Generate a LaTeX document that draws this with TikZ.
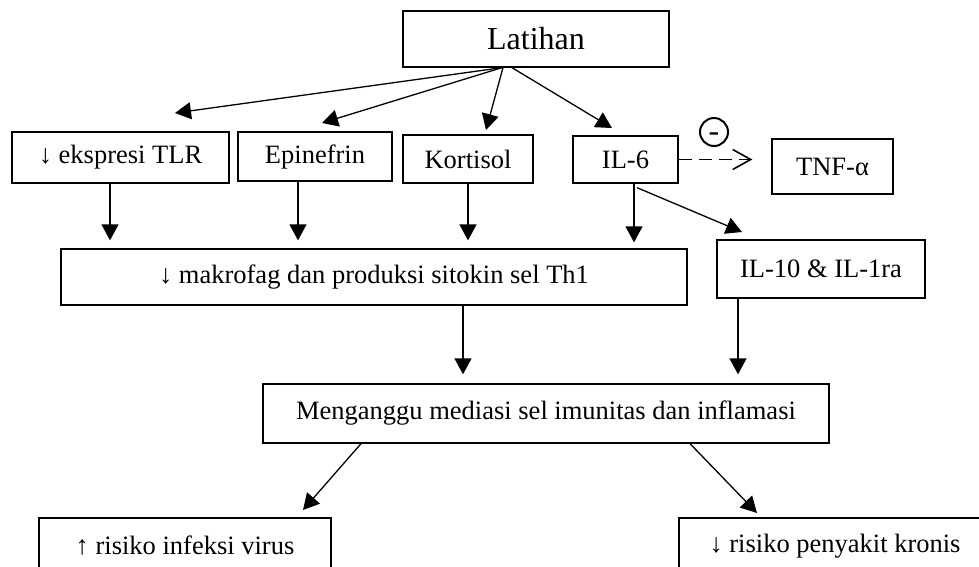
\documentclass[tikz,border=0pt]{standalone}
\usepackage{fontspec}
\setmainfont{Liberation Serif}
\usetikzlibrary{arrows.meta}

\newcommand{\teksbiasa}{\fontsize{26.5}{30}\selectfont}
\newcommand{\teksbesar}{\fontsize{32}{36}\selectfont}

\tikzset{
    kotak/.style={draw, line width=1.3pt, inner sep=0pt, align=center, font=\teksbiasa},
    panah/.style={-{Triangle[length=16pt,width=17pt]}, line width=1.3pt},
    hambat/.style={dash pattern=on 13pt off 7pt, -{Straight Barb[length=18pt,width=20pt]}, line width=1.6pt},
}

\begin{document}
\begin{tikzpicture}[x=1pt, y=-1pt]
            \clip (0,0) rectangle (979,566);
            \node[kotak, font=\teksbesar, minimum width=266pt, minimum height=56pt] (lat) at (536,39) {Latihan};
            \node[kotak, minimum width=217pt, minimum height=51pt] (tlr) at (120.5,157.5) {↓ ekspresi TLR};
            \node[kotak, minimum width=154pt, minimum height=49pt] (epi) at (315,156.5) {Epinefrin};
            \node[kotak, minimum width=130pt, minimum height=48pt] (kor) at (468,159) {Kortisol};
            \node[kotak, minimum width=105pt, minimum height=47pt] (il6) at (625.5,159.5) {IL-6};
            \node[kotak, minimum width=121pt, minimum height=55pt] (tnf) at (832.5,166.5) {TNF-α};
            \node[draw, circle, line width=2pt, minimum size=28pt, inner sep=0pt, text height=19pt, text depth=0pt, font=\fontsize{32}{32}\selectfont] (min) at (714,132) {-};
            \node[kotak, minimum width=626pt, minimum height=56pt] (mak) at (374,277) {↓ makrofag dan produksi sitokin sel Th1};
            \node[kotak, minimum width=208pt, minimum height=58pt] (il10) at (821,269) {IL-10 \& IL-1ra};
            \node[kotak, minimum width=566pt, minimum height=59pt] (meng) at (546,413.5) {Menganggu mediasi sel imunitas dan inflamasi};
            \node[kotak, minimum width=292pt, minimum height=56pt] (vir) at (185,546) {↑ risiko infeksi virus};
            \node[kotak, minimum width=312pt, minimum height=56pt] (kro) at (835,546) {↓ risiko penyakit kronis};
            \coordinate (ujungtlr) at (175,113);
            \coordinate (ujungepi) at (322,123);
            \coordinate (ujungkor) at (486,130);
            \coordinate (ujungil6) at (612,128);
            \coordinate (ujungil10) at (742,232);
            \coordinate (ujungvir) at (303,510);
            \coordinate (ujungkro) at (757,513);
            \draw[panah] ([xshift=-34pt]lat.south) -- (ujungtlr);
            \draw[panah] ([xshift=-34pt]lat.south) -- (ujungepi);
            \draw[panah] ([xshift=-33pt]lat.south) -- (ujungkor);
            \draw[panah] ([xshift=-24pt]lat.south) -- (ujungil6);
            \draw[hambat] (il6.east) -- (il6.east -| tnf.west) [shorten >=19pt];
            \draw[panah, shorten >=8pt] ([xshift=-10.5pt]tlr.south) -- ([xshift=-10.5pt]tlr.south |- mak.north);
            \draw[panah, shorten >=8pt] ([xshift=-17pt]epi.south) -- ([xshift=-17pt]epi.south |- mak.north);
            \draw[panah, shorten >=8pt] (kor.south) -- (kor.south |- mak.north);
            \draw[panah, shorten >=6pt] ([xshift=8.5pt]il6.south) -- ([xshift=8.5pt]il6.south |- mak.north);
            \draw[panah] ([xshift=11.5pt,yshift=-4pt]il6.south) -- (ujungil10);
            \draw[panah, shorten >=9pt] ([xshift=89pt]mak.south) -- ([xshift=89pt]mak.south |- meng.north);
            \draw[panah, shorten >=9pt] ([xshift=-83pt]il10.south) -- ([xshift=-83pt]il10.south |- meng.north);
            \draw[panah] ([xshift=-185pt]meng.south) -- (ujungvir);
            \draw[panah] ([xshift=144pt]meng.south) -- (ujungkro);
        \end{tikzpicture}
\end{document}
